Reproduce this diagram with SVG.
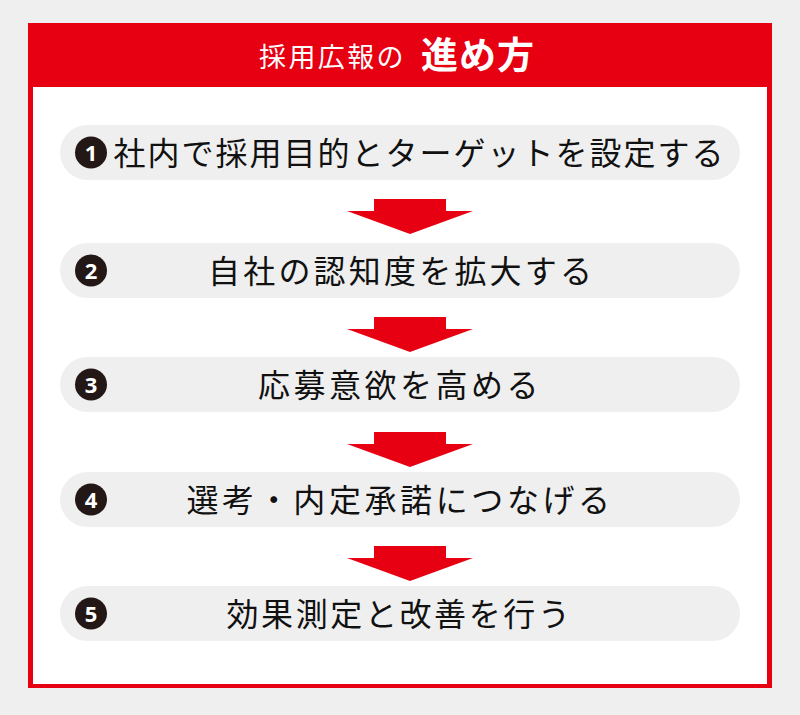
<svg xmlns="http://www.w3.org/2000/svg" width="800" height="715" viewBox="0 0 800 715">
  <style>
    .pill { fill: #efefef; }
    .num { fill: #231815; }
    .numt { fill: #ffffff; font-family: "Noto Sans", "Liberation Sans", sans-serif; font-weight: 700; font-size: 22px; text-anchor: middle; }
    .lbl { fill: #111111; font-family: "Noto Sans CJK JP", "Noto Sans CJK SC", sans-serif; font-size: 32px; font-weight: 400; letter-spacing: 3.2px; }
    .arrow { fill: #e60012; }
    .title { fill: #ffffff; font-family: "Noto Sans CJK JP", "Noto Sans CJK SC", sans-serif; }
  </style>
  <defs>
    <path id="arr" d="M-36,0 H36 V12 H63 L0,35 L-63,12 H-36 Z"/>
  </defs>
  <rect x="0" y="0" width="800" height="715" fill="#efefef"/>
  <g id="frame">
    <rect x="28" y="23" width="744" height="665" fill="#e60012"/>
    <rect x="33" y="87" width="734" height="597" fill="#ffffff"/>
  </g>
  <g id="title">
    <text class="title" x="259" y="67" font-size="27" letter-spacing="2.4">採用広報の</text>
    <text class="title" x="421" y="69" font-size="37" font-weight="700" letter-spacing="1">進め方</text>
  </g>
  <g id="step1">
    <rect class="pill" x="60" y="125" width="680" height="55" rx="27.5"/>
    <circle class="num" cx="91" cy="152.5" r="16"/>
    <text class="numt" x="91" y="160.5">1</text>
    <text class="lbl" x="113.5" y="164.5" style="letter-spacing:2px">社内で採用目的とターゲットを設定する</text>
  </g>
  <g id="step2">
    <rect class="pill" x="60" y="243" width="680" height="55" rx="27.5"/>
    <circle class="num" cx="91" cy="270.5" r="16"/>
    <text class="numt" x="91" y="278.5">2</text>
    <text class="lbl" x="208" y="282.5">自社の認知度を拡大する</text>
  </g>
  <g id="step3">
    <rect class="pill" x="60" y="357" width="680" height="55" rx="27.5"/>
    <circle class="num" cx="91" cy="384.5" r="16"/>
    <text class="numt" x="91" y="392.5">3</text>
    <text class="lbl" x="258" y="396.5" style="letter-spacing:3.5px">応募意欲を高める</text>
  </g>
  <g id="step4">
    <rect class="pill" x="60" y="472" width="680" height="55" rx="27.5"/>
    <circle class="num" cx="91" cy="499.5" r="16"/>
    <text class="numt" x="91" y="507.5">4</text>
    <text class="lbl" x="186.5" y="511.5" style="letter-spacing:3.6px">選考・内定承諾につなげる</text>
  </g>
  <g id="step5">
    <rect class="pill" x="60" y="586" width="680" height="55" rx="27.5"/>
    <circle class="num" cx="91" cy="613.5" r="16"/>
    <text class="numt" x="91" y="621.5">5</text>
    <text class="lbl" x="226.5" y="625.5" style="letter-spacing:2.6px">効果測定と改善を行う</text>
  </g>
  <g id="connectors">
    <use href="#arr" class="arrow" x="410" y="199"/>
    <use href="#arr" class="arrow" x="410" y="317"/>
    <use href="#arr" class="arrow" x="410" y="432"/>
    <use href="#arr" class="arrow" x="410" y="546"/>
  </g>
</svg>
